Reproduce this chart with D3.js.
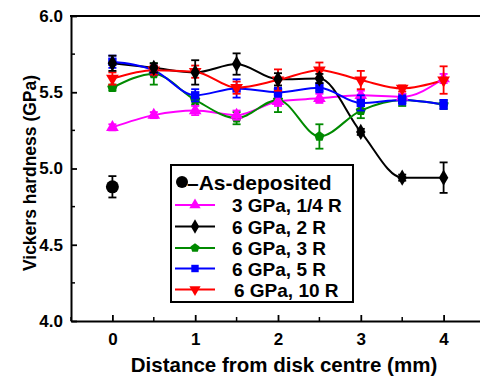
<!DOCTYPE html>
<html><head><meta charset="utf-8">
<script src="https://cdn.jsdelivr.net/npm/d3@7"></script>
<style>body{margin:0;background:#fff}</style></head>
<body><svg id="c" width="480" height="380"></svg>
<script>
const distances = [0, 0.5, 1, 1.5, 2, 2.5, 3, 3.5, 4];
const seriesLabels = ["3 GPa, 1/4 R", "6 GPa, 2 R", "6 GPa, 3 R", "6 GPa, 5 R", "6 GPa, 10 R"];
const seriesColors = ["#ff00ff", "#000000", "#008a00", "#0000ff", "#ff0000"];
const seriesSymbols = ["triUp", "diamond", "pentagon", "square", "triDown"];
const hard_3GPa_quarterR = [5.27, 5.35, 5.38, 5.35, 5.44, 5.46, 5.48, 5.47, 5.59];
const err_3GPa_quarterR  = [0.02, 0.02, 0.03, 0.03, 0.03, 0.03, 0.03, 0.02, 0.03];
const hard_6GPa_2R = [5.69, 5.66, 5.63, 5.685, 5.585, 5.59, 5.24, 4.94, 4.94];
const err_6GPa_2R  = [0.05, 0.03, 0.08, 0.07, 0.04, 0.03, 0.02, 0.02, 0.10];
const hard_6GPa_3R = [5.53, 5.62, 5.45, 5.33, 5.45, 5.21, 5.38, 5.45, 5.42];
const err_6GPa_3R  = [0.02, 0.07, 0.03, 0.04, 0.08, 0.08, 0.05, 0.04, 0.03];
const hard_6GPa_5R = [5.70, 5.645, 5.48, 5.525, 5.50, 5.53, 5.43, 5.45, 5.42];
const err_6GPa_5R  = [0.04, 0.03, 0.04, 0.06, 0.03, 0.03, 0.05, 0.03, 0.03];
const hard_6GPa_10R = [5.59, 5.645, 5.635, 5.53, 5.58, 5.645, 5.58, 5.525, 5.58];
const err_6GPa_10R  = [0.04, 0.03, 0.04, 0.04, 0.07, 0.05, 0.06, 0.02, 0.09];
const asDepositedX = [0];
const asDepositedY = [4.88];
const asDepositedErr = [0.07];
const xTicks = [0, 1, 2, 3, 4];
const yTicks = [4.0, 4.5, 5.0, 5.5, 6.0];

const seriesValues = [hard_3GPa_quarterR, hard_6GPa_2R, hard_6GPa_3R, hard_6GPa_5R, hard_6GPa_10R];
const seriesErrors = [err_3GPa_quarterR, err_6GPa_2R, err_6GPa_3R, err_6GPa_5R, err_6GPa_10R];

const svg = d3.select("#c");
const x = d3.scaleLinear().domain([-0.5, 4.5]).range([71, 485]);
const y = d3.scaleLinear().domain([4, 6]).range([321, 16]);
const FONT = "Arial, 'Liberation Sans', sans-serif";

function symPath(kind, size) {
  const s = size;
  if (kind === "triUp") return d3.symbol(d3.symbolTriangle, s)();
  if (kind === "triDown") return d3.symbol(d3.symbolTriangle, s)();
  if (kind === "square") return d3.symbol(d3.symbolSquare, s)();
  if (kind === "diamond") return d3.symbol(d3.symbolDiamond, s * 1.1)();
  if (kind === "circle") return d3.symbol(d3.symbolCircle, s)();
  if (kind === "pentagon") {
    const r = Math.sqrt(s / 2.4);
    const pts = d3.range(5).map(i => {
      const a = -Math.PI / 2 + i * 2 * Math.PI / 5;
      return [r * Math.cos(a), r * Math.sin(a)];
    });
    return d3.line()(pts) + "Z";
  }
}
function rot(kind) { return kind === "triDown" ? " rotate(180)" : ""; }

svg.append("clipPath").attr("id", "clip").append("rect").attr("x", 71).attr("y", 16).attr("width", 414).attr("height", 305);
const plot = svg.append("g").attr("clip-path", "url(#clip)");

const line = d3.line().x(d => x(d[0])).y(d => y(d[1])).curve(d3.curveMonotoneX);
seriesValues.forEach((vals, i) => {
  plot.append("path").attr("d", line(distances.map((d, j) => [d, vals[j]])))
    .attr("fill", "none").attr("stroke", seriesColors[i]).attr("stroke-width", 2);
});
const order = [2, 0, 3, 4, 1];
order.forEach(i => {
  const g = plot.append("g");
  distances.forEach((d, j) => {
    const v = seriesValues[i][j], e = seriesErrors[i][j];
    const cx = x(d);
    g.append("line").attr("x1", cx).attr("x2", cx).attr("y1", y(v + e)).attr("y2", y(v - e))
      .attr("stroke", seriesColors[i]).attr("stroke-width", 1.8);
    [v + e, v - e].forEach(w => g.append("line").attr("x1", cx - 4).attr("x2", cx + 4)
      .attr("y1", y(w)).attr("y2", y(w)).attr("stroke", seriesColors[i]).attr("stroke-width", 1.8));
    g.append("path").attr("d", symPath(seriesSymbols[i], 70))
      .attr("transform", `translate(${cx},${y(v)})` + rot(seriesSymbols[i]))
      .attr("fill", seriesColors[i]);
  });
});
asDepositedX.forEach((d, j) => {
  const cx = x(d), v = asDepositedY[j], e = asDepositedErr[j];
  plot.append("line").attr("x1", cx).attr("x2", cx).attr("y1", y(v + e)).attr("y2", y(v - e)).attr("stroke", "#000").attr("stroke-width", 1.8);
  [v + e, v - e].forEach(w => plot.append("line").attr("x1", cx - 4).attr("x2", cx + 4).attr("y1", y(w)).attr("y2", y(w)).attr("stroke", "#000").attr("stroke-width", 1.8));
  plot.append("circle").attr("cx", cx).attr("cy", y(v)).attr("r", 6.5).attr("fill", "#000");
});

const xAxis = d3.axisBottom(x).tickValues(xTicks).tickSizeInner(-6).tickSizeOuter(0).tickPadding(12).tickFormat(d3.format("d"));
const gx = svg.append("g").attr("transform", "translate(0,321)").call(xAxis);
const yAxis = d3.axisLeft(y).tickValues(yTicks).tickSizeInner(-6).tickSizeOuter(0).tickPadding(8).tickFormat(d3.format(".1f"));
const gy = svg.append("g").attr("transform", "translate(71,0)").call(yAxis);
[gx, gy].forEach(g => {
  g.select(".domain").attr("stroke-width", 2);
  g.selectAll(".tick line").attr("stroke-width", 1.8);
  g.selectAll("text").attr("font-family", FONT).attr("font-weight", "bold").attr("font-size", 17).attr("fill", "#000");
});
[-0.5, 0.5, 1.5, 2.5, 3.5].forEach(t => svg.append("line").attr("x1", x(t)).attr("x2", x(t)).attr("y1", 321).attr("y2", 317).attr("stroke", "#000").attr("stroke-width", 1.5));
[4.25, 4.75, 5.25, 5.75].forEach(t => svg.append("line").attr("x1", 71).attr("x2", 75).attr("y1", y(t)).attr("y2", y(t)).attr("stroke", "#000").attr("stroke-width", 1.5));
svg.append("line").attr("x1", 70).attr("x2", 480).attr("y1", 16).attr("y2", 16).attr("stroke", "#000").attr("stroke-width", 2);

svg.append("text").attr("x", 284).attr("y", 372).attr("text-anchor", "middle")
  .attr("font-family", FONT).attr("font-weight", "bold").attr("font-size", 20.5).text("Distance from disk centre (mm)");
svg.append("text").attr("transform", "translate(36,173) rotate(-90)").attr("text-anchor", "middle")
  .attr("font-family", FONT).attr("font-weight", "bold").attr("font-size", 17.5).text("Vickers hardness (GPa)");

const lg = svg.append("g");
lg.append("rect").attr("x", 171).attr("y", 165).attr("width", 182).attr("height", 137)
  .attr("fill", "#fff").attr("stroke", "#000").attr("stroke-width", 2);
lg.append("circle").attr("cx", 182).attr("cy", 182).attr("r", 6).attr("fill", "#000");
lg.append("text").attr("x", 187).attr("y", 189.5).attr("font-family", FONT).attr("font-weight", "bold")
  .attr("font-size", 21).text("–As-deposited");
const rowsY = [205, 226.5, 248, 268.5, 289.5];
seriesLabels.forEach((lab, i) => {
  const ry = rowsY[i];
  lg.append("line").attr("x1", 175).attr("x2", 215).attr("y1", ry).attr("y2", ry).attr("stroke", seriesColors[i]).attr("stroke-width", 2);
  lg.append("path").attr("d", symPath(seriesSymbols[i], 55)).attr("transform", `translate(195,${ry})` + rot(seriesSymbols[i])).attr("fill", seriesColors[i]);
  lg.append("text").attr("x", i === 4 ? 234 : 232).attr("y", ry + 7).attr("font-family", FONT).attr("font-weight", "bold")
    .attr("font-size", 19).text(lab);
});
</script></body></html>
